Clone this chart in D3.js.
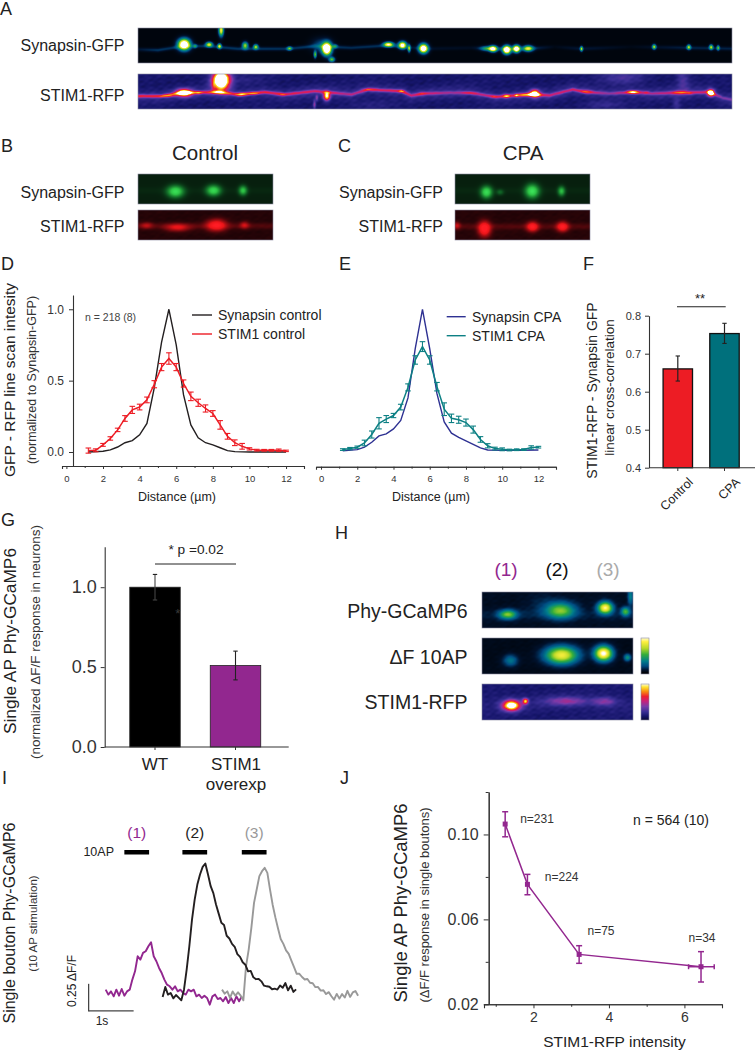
<!DOCTYPE html>
<html><head><meta charset="utf-8">
<script src="https://cdn.jsdelivr.net/npm/d3@7/dist/d3.min.js"></script>
<style>html,body{margin:0;padding:0;background:#fff}svg{display:block}text{font-family:"Liberation Sans",Arial,sans-serif;fill:#222}</style>
</head><body><svg id="c" width="755" height="1050"></svg>
<script>
// ---------- chart values ----------
const distCoarse = [1.2,2,2.4,2.8,3.2,3.6,4,4.4,4.8,5.2,5.6,6,6.4,6.8,7.2,7.6,8,8.4,8.8,9.2,10,11,12];
const synapsinControl = [0,.005,.015,.035,.065,.08,.12,.2,.45,.77,1,.75,.4,.19,.1,.065,.05,.03,.01,.003,0,0,0];
const synapsinCPA = [-.005,.003,.02,.055,.1,.115,.15,.21,.37,.72,1,.72,.4,.2,.12,.09,.065,.04,.015,0,-.003,-.002,0];
const distFine = [1.2,1.6,2,2.4,2.8,3.2,3.6,4,4.4,4.8,5.2,5.6,6,6.4,6.8,7.2,7.6,8,8.4,8.8,9.2,9.6,10,10.4,10.8,11.2,11.6,12];
const stimControl = [.01,.012,.05,.095,.155,.235,.295,.315,.365,.475,.595,.655,.595,.48,.39,.345,.305,.27,.19,.11,.065,.04,.022,.013,.012,.012,.013,.008];
const stimControlErr = [.018,.01,.01,.012,.012,.02,.025,.02,.02,.025,.025,.04,.025,.025,.03,.025,.025,.02,.03,.02,.02,.02,.008,.006,.006,.006,.008,.005];
const stimCPA = [.003,.01,.02,.05,.11,.19,.22,.245,.305,.445,.64,.735,.64,.45,.29,.225,.215,.195,.145,.075,.03,.01,.005,0,.002,.003,.018,.02];
const stimCPAErr = [.006,.008,.008,.02,.025,.04,.025,.015,.02,.025,.03,.035,.03,.03,.045,.03,.025,.025,.025,.02,.015,.01,.01,.006,.006,.006,.012,.006];
const corrCats = ["Control","CPA"];
const corrVals = [.66,.753];
const corrLow = [.628,.727];
const corrHigh = [.694,.78];
const apCats = ["WT","STIM1"];
const apVals = [1,.51];
const apLow = [.92,.42];
const apHigh = [1.08,.6];
const traceStep = .0593;
const trace1 = [31,-15,15,-31,31,-25,37,-25,15,31,124,201,340,309,371,386,433,470,340,294,232,185,124,77,62,31,62,15,31,0,-15,31,15,31,-31,-15,-46,-25,-46,-108,-31,-15,-56,-46,-77,-37,-93,-46,-93,-31,-77,-31];
const trace2 = [-37,56,-15,0,-49,-19,-43,-68,31,216,433,680,865,1004,1097,1168,1199,1097,989,925,820,735,650,630,530,505,455,428,360,335,285,262,200,205,145,128,130,108,68,62,58,35,40,32,70,48,92,25,68,10,34];
const trace3 = [31,-6,15,-46,15,-25,6,-25,-68,247,402,603,834,958,1082,1128,1159,1112,958,815,700,598,500,455,395,362,300,240,178,178,148,125,130,95,90,54,55,22,25,-10,8,-30,-62,-8,-52,-10,-42,20,-36,5,18,-25];
const traceStarts = [.015,1.281,2.6];
const stimWindows = [[.43,.98],[1.72,2.27],[3.04,3.59]];
const jX = [1.25,1.84,3.21,6.44];
const jY = [.1049,.0765,.0435,.0377];
const jYLow = [.0989,.0716,.0393,.0305];
const jYHigh = [.1107,.0812,.0476,.0448];
const jXErrPoint = [6.11,6.79];
const jN = ["n=231","n=224","n=75","n=34"];

// image blobs: [u, v, sigmaU, sigmaV, amplitude]
const synStripBlobs = [[137,25,12,11,1.5],[170,30,4,4,.35],[212,25,7,5,.8],[243,30,4,5,.8],[320,28,6,7,.7],[352,32,5,5,.7],[453,37,5,4,.55],[565,38,9,12,1.6],[530,55,3,7,.6],[590,30,5,4,.35],[580,70,6,5,.6],[550,28,20,14,.22],[750,25,10,5,1.0],[792,27,8,7,1.2],[812,37,3,7,.7],[855,37,9,9,1.4],[248,-18,5,12,.9],[1064,38,8,6,1.15],[1044,37,12,5,.4],[1105,41,8,8,1.5],[1134,38,7,7,1.35],[1169,37,10,6,.8],[1329,38,3,5,.7],[1547,32,4,5,.7],[1651,33,4,5,.7],[1718,33,4,5,.7],[1739,35,3,5,.55]];
const stimStripBlobs = [[137,170,16,8,1.0],[248,132,17,20,1.5],[240,168,12,4,.25],[310,175,10,4,.35],[345,172,12,3,.22],[180,170,6,3,.25],[90,180,14,3,.25],[565,180,7,9,.9],[528,205,3,10,.3],[535,185,3,6,.3],[225,150,4,12,.2],[430,175,8,3,.15],[690,160,15,3,.17],[790,165,8,3,.3],[850,172,8,3,.15],[1189,172,10,8,.95],[1164,175,20,4,.3],[1104,180,7,4,.42],[1134,178,4,3,.34],[1069,182,8,3,.15],[994,170,15,3,.15],[1344,165,12,4,.22],[1484,168,12,4,.5],[1524,168,6,3,.15],[1624,168,15,4,.22],[1654,172,6,3,.15],[1717,170,7,7,1.15],[1454,125,45,14,.15],[1634,130,14,30,.16],[1394,205,40,8,.1],[1614,205,8,15,.12],[300,130,60,10,.06],[700,205,50,10,.05]];
const bSyn = [[37,17,5.5,4,.9],[75,16,4.8,3.6,.85],[104.5,16,2.8,3.2,.7]];
const bStim = [[8,15,4,2.2,.4],[39,17,8,2.6,.62],[78,14.7,6.5,3.8,1.0],[106,14.7,3,2.4,.5]];
const cSyn = [[31,17.7,3.8,4,.9],[44.6,17.7,2.5,2,.25],[76.7,16.7,4.6,4.6,.95],[106,16.7,2.4,3.2,.65]];
const cStim = [[29,18.3,4,4.8,1.2],[77,16.3,3.8,3.2,1.0],[107,16.3,3.8,3.2,1.0],[1.5,15,2.4,2.4,.45]];
const hPhy = [[25.3,22,6,3.2,.58],[78,18,10,5.5,.6],[122.7,15.3,5,4,.95],[143,19,3,3,.5],[148,4,2,6,.3],[60,10,12,8,.06]];
const hDelta = [[28,22,5,4,.28],[79,16.7,11,6,.88],[121,15,6,5,1.08],[145,19,2.5,2.5,.38]];
const hStim = [[29,21,6,3.6,1.1],[43,16.7,2,2,.75],[84,16.7,14,3,.3],[122,17,8,3,.27]];

// ---------- helpers ----------
const svg = d3.select("#c");
function T(s,x,y,size,anchor,rot,color){
  const t = svg.append("text").text(s).attr("font-size",size).attr("text-anchor",anchor||"start")
    .attr("dominant-baseline","central");
  if(rot!==undefined&&rot!==null) t.attr("transform",`translate(${x},${y}) rotate(${rot})`);
  else t.attr("x",x).attr("y",y);
  if(color) t.style("fill",color);
  return t;
}
function L(x1,y1,x2,y2,c,w){svg.append("line").attr("x1",x1).attr("y1",y1).attr("x2",x2).attr("y2",y2).attr("stroke",c||"#222").attr("stroke-width",w||1);}
function axis(gen,tx,ty,fs,hideLabels){
  const g = svg.append("g").attr("transform",`translate(${tx},${ty})`).call(gen);
  g.selectAll("path").attr("stroke","#333").attr("stroke-width",1.1);
  g.selectAll("line").attr("stroke","#333").attr("stroke-width",1);
  g.selectAll("text").attr("font-size",fs||10).style("fill","#333");
  return g;
}
const fireMap = d3.scaleLinear().domain([0,.12,.25,.4,.55,.68,.82,.95,1.05])
  .range(["#06062a","#15156a","#3a2f96","#7a3aa8","#c8207a","#ee2030","#f88a10","#ffe630","#ffffff"]).clamp(true);
const gemMap = d3.scaleLinear().domain([0,.08,.2,.35,.55,.75,.95,1.1])
  .range(["#000308","#00122e","#004a80","#007d8c","#33ad3c","#b8d828","#fff040","#ffffff"]).clamp(true);
const greenMap = d3.scaleLinear().domain([0,.25,.7,1.1]).range(["#061a0c","#0e5a22","#2cc044","#40ee60"]).clamp(true);
const redMap = d3.scaleLinear().domain([0,.25,.7,1.1]).range(["#1e0306","#72090e","#e81418","#ff1c24"]).clamp(true);

function raster(x,y,w,h,cmap,fieldFn){
  const cv = document.createElement("canvas"); cv.width=w; cv.height=h;
  const ctx = cv.getContext("2d"); const im = ctx.createImageData(w,h);
  for(let j=0;j<h;j++)for(let i=0;i<w;i++){
    const c = d3.rgb(cmap(fieldFn(i,j))); const k=(j*w+i)*4;
    im.data[k]=c.r;im.data[k+1]=c.g;im.data[k+2]=c.b;im.data[k+3]=255;
  }
  ctx.putImageData(im,0,0);
  svg.append("image").attr("x",x).attr("y",y).attr("width",w).attr("height",h).attr("href",cv.toDataURL());
  svg.append("rect").attr("x",x).attr("y",y).attr("width",w).attr("height",h).attr("fill","none").attr("stroke","#8a8aa0").attr("stroke-width",.6);
}
function blobField(blobs,i,j,su,sv,vo){
  let f=0; for(const b of blobs){
    const du=(i-b[0]*su)/(b[2]*su), dv=(j-(b[1]+vo)*sv)/(b[3]*sv);
    const e=du*du+dv*dv; if(e<20) f+=b[4]*Math.exp(-.5*e);
  } return f;
}
function mottle(i,j){return .6*Math.sin(i*.31+j*.53)*Math.sin(i*.137-j*.71)+.5*Math.sin(i*.573-j*.37)*Math.cos(i*.091+j*.93)+.4*Math.sin(i*.053+j*.21+1)+.3*Math.sin(i*.89+j*1.13);}

// ---------- panel A images ----------
const stripW=594, su=1/3;
const synRidgeU=[0,60,137,210,300,450,530,640,750,860,1000,1060,1170,1250,1330,1480,1650,1800];
const synRidgeV=[40,42,30,30,38,38,30,35,28,38,35,38,38,32,38,32,35,38].map(v=>v+23);
const synRidgeA=[.07,.14,.12,.13,.14,.13,.14,.12,.13,.05,.04,.13,.14,.02,.08,.02,.1,.1];
const rsV=d3.scaleLinear().domain(synRidgeU).range(synRidgeV), rsA=d3.scaleLinear().domain(synRidgeU).range(synRidgeA);
raster(138,28,stripW,35,gemMap,(i,j)=>{
  const u=(i+.5)*3, d=(j*3-rsV(u))/4;
  return blobField(synStripBlobs,i,j,su,su,23)+rsA(u)*Math.exp(-.5*d*d)+.01;
});
const stRidgeU=[0,70,130,240,300,380,440,530,640,690,790,820,860,934,994,1074,1184,1234,1304,1344,1414,1484,1544,1624,1714,1754,1800];
const stRidgeV=[180,180,170,168,175,168,175,165,175,160,165,178,172,170,170,182,175,178,160,168,172,168,172,170,168,185,195].map(v=>v-115);
const stRidgeA=[.46,.46,.44,.46,.46,.44,.4,.36,.3,.38,.4,.36,.36,.24,.3,.36,.42,.34,.34,.38,.22,.38,.26,.36,.34,.2,.14];
const rtV=d3.scaleLinear().domain(stRidgeU).range(stRidgeV), rtA=d3.scaleLinear().domain(stRidgeU).range(stRidgeA);
raster(138,74,stripW,35,fireMap,(i,j)=>{
  const u=(i+.5)*3, d=(j*3-rtV(u))/3.6, dw=(j*3-rtV(u))/13;
  return blobField(stimStripBlobs,i,j,su,su,-115)+rtA(u)*Math.exp(-.5*d*d)+.1*Math.exp(-.5*dw*dw)+.12+.025*mottle(i,j);
});
// ---------- panels B, C images ----------
raster(138,174,135,30,greenMap,(i,j)=>blobField(bSyn,i,j,1,1,0)+.03*Math.exp(-.5*Math.pow((j-16)/2.5,2))+.02);
raster(138,210,135,30,redMap,(i,j)=>blobField(bStim,i,j,1,1,0)+.14*Math.exp(-.5*Math.pow((j-15.5)/2.2,2))+.015+.012*mottle(i,j));
raster(455,174,135,30,greenMap,(i,j)=>blobField(cSyn,i,j,1,1,0)+.03*Math.exp(-.5*Math.pow((j-16)/2.5,2))+.02);
raster(455,210,135,30,redMap,(i,j)=>blobField(cStim,i,j,1,1,0)+.13*Math.exp(-.5*Math.pow((j-16)/2.2,2))+.02+.012*mottle(i,j));
// ---------- panel H images ----------
raster(482,592,151,36,gemMap,(i,j)=>blobField(hPhy,i,j,1,1,0)+.05+.05*Math.exp(-.5*Math.pow((j-22)/4,2))+.012*mottle(i,j));
raster(482,638,151,36,gemMap,(i,j)=>blobField(hDelta,i,j,1,1,0)+.035+.008*mottle(i,j));
raster(482,684,151,36,fireMap,(i,j)=>blobField(hStim,i,j,1,1,0)+.13+.04*Math.exp(-.5*Math.pow((j-19)/6,2))+.025*mottle(i,j));
raster(641,638,8,36,gemMap,(i,j)=>1.05*(1-j/34));
raster(641,684,8,36,fireMap,(i,j)=>1.02*(1-j/36));

// ---------- letters, image text ----------
[["A",0,9],["B",1,146],["C",338,146],["D",1,264],["E",339,264],["F",583,264],["G",1,520],["H",335,533],["I",2,778],["J",340,778]]
  .forEach(d=>T(d[0],d[1],d[2],18,"start"));
T("Synapsin-GFP",124.5,45,16,"end");
T("STIM1-RFP",124.5,95,16,"end");
T("Control",205,152,20.5,"middle");
T("CPA",523,152,20.5,"middle");
T("Synapsin-GFP",124.5,192,16,"end"); T("STIM1-RFP",124.5,226,16,"end");
T("Synapsin-GFP",443,192,16,"end"); T("STIM1-RFP",443,226,16,"end");
T("Phy-GCaMP6",467.5,611,19.5,"end"); T("\u0394F 10AP",467.5,657,19.5,"end"); T("STIM1-RFP",467.5,702,19.5,"end");
T("(1)",506,569,19,"middle",null,"#92278f"); T("(2)",557,569,19,"middle",null,"#111"); T("(3)",608,569,19,"middle",null,"#aaa");

// ---------- panel D ----------
const dx=d3.scaleLinear().domain([-.24,12.98]).range([62,304]);
const dy=d3.scaleLinear().domain([-.098,1.1]).range([466,295]);
const ex=d3.scaleLinear().domain([-.277,12.97]).range([316,556]);
const ey=d3.scaleLinear().domain([0,1]).range([450,309.3]);
const xt=[0,2,4,6,8,10,12], xm=[1,3,5,7,9,11];
function scanAxes(x,ay){
  axis(d3.axisBottom(x).tickValues(xt).tickSize(3).tickPadding(6).tickFormat(d3.format("d")),0,ay,9.5);
  axis(d3.axisBottom(x).tickValues(xm).tickSize(2).tickFormat("").tickSizeOuter(0),0,ay);
}
scanAxes(dx,466); scanAxes(ex,466.7);
axis(d3.axisLeft(dy).tickValues([0,.5,1]).tickSize(4).tickPadding(5).tickFormat(d3.format(".1f")).tickSizeOuter(0),73,0,12);
function scan(x,y,coarse,fine,err,cc,cf){
  const line=d3.line();
  svg.append("path").attr("d",line(distCoarse.map((d,i)=>[x(d),y(coarse[i])]))).attr("fill","none").attr("stroke",cc).attr("stroke-width",1.4);
  svg.append("path").attr("d",line(distFine.map((d,i)=>[x(d),y(fine[i])]))).attr("fill","none").attr("stroke",cf).attr("stroke-width",1.5);
  distFine.forEach((d,i)=>{
    const X=x(d),a=y(fine[i]-err[i]),b=y(fine[i]+err[i]);
    L(X,a,X,b,cf,1.1); L(X-2.8,a,X+2.8,a,cf,1.1); L(X-2.8,b,X+2.8,b,cf,1.1);
  });
}
scan(dx,dy,synapsinControl,stimControl,stimControlErr,"#231f20","#ed1c24");
scan(ex,ey,synapsinCPA,stimCPA,stimCPAErr,"#2e3192","#0d8084");
T("GFP - RFP line scan intesity",9,380,15.5,"middle",-90);
T("(normalized to Synapsin-GFP)",32,380,12.5,"middle",-90,"#333");
T("n = 218 (8)",85,317,10.5,"start",null,"#444");
L(192,315,212,315,"#231f20",1.4); L(192,334,212,334,"#ed1c24",1.4);
T("Synapsin control",218,315,14,"start"); T("STIM1 control",218,334,14,"start");
L(446.7,316.7,465.7,316.7,"#2e3192",1.4); L(446.7,335.7,465.7,335.7,"#0d8084",1.4);
T("Synapsin CPA",472,316.7,14,"start"); T("STIM1 CPA",472,335.7,14,"start");
T("Distance (\u00b5m)",177,497,12.5,"middle"); T("Distance (\u00b5m)",431,497,12.5,"middle");

// ---------- panel F ----------
const fy=d3.scaleLinear().domain([.4,.8]).range([467.7,315.7]);
const fx=d3.scaleBand().domain(corrCats).range([654.45,747.85]).paddingInner(.37).paddingOuter(.185);
const fc=["#ed1c24","#00707c"];
corrCats.forEach((c,i)=>{
  svg.append("rect").attr("x",fx(c)).attr("y",fy(corrVals[i])).attr("width",fx.bandwidth()).attr("height",fy(.4)-fy(corrVals[i]))
    .attr("fill",fc[i]).attr("stroke","#111").attr("stroke-width",1.3);
  const X=fx(c)+fx.bandwidth()/2;
  L(X,fy(corrLow[i]),X,fy(corrHigh[i]),"#222",1.2);
  L(X-2.2,fy(corrLow[i]),X+2.2,fy(corrLow[i]),"#222",1.1); L(X-2.2,fy(corrHigh[i]),X+2.2,fy(corrHigh[i]),"#222",1.1);
  L(X,467.7,X,471,"#333",1);
});
axis(d3.axisLeft(fy).tickValues([.4,.5,.6,.7,.8]).tickSize(4).tickPadding(4).tickFormat(d3.format(".1f")).tickSizeOuter(0),649,0,11);
L(649,467.7,755,467.7,"#333",1.1);
T("Control",691,480,12.5,"end",-45); T("CPA",738,480,12.5,"end",-45);
L(677,306.7,725.7,306.7,"#222",1.1);
T("**",700,298,13,"middle");
T("STIM1-RFP - Synapsin GFP",592,390.5,14,"middle",-90);
T("linear cross-correlation",609,387.5,13.5,"middle",-90);

// ---------- panel G ----------
const gy=d3.scaleLinear().domain([0,1.2535]).range([747,546.7]);
const gx=d3.scaleBand().domain(apCats).range([114.75,275.75]).paddingInner(.373).paddingOuter(.1865);
const gc=["#000000","#92278f"];
apCats.forEach((c,i)=>{
  svg.append("rect").attr("x",gx(c)).attr("y",gy(apVals[i])).attr("width",gx.bandwidth()).attr("height",gy(0)-gy(apVals[i]))
    .attr("fill",gc[i]).attr("stroke","#222").attr("stroke-width",.8);
  const X=gx(c)+gx.bandwidth()/2;
  L(X,gy(apLow[i]),X,gy(apHigh[i]),i?"#222":"#444",1.1);
  L(X-2.2,gy(apLow[i]),X+2.2,gy(apLow[i]),i?"#222":"#444",1.1); L(X-2.2,gy(apHigh[i]),X+2.2,gy(apHigh[i]),"#222",1.1);
  L(X,747,X,750,"#333",1);
});
axis(d3.axisLeft(gy).tickValues([0,.5,1]).tickSize(4).tickPadding(4).tickFormat(d3.format(".1f")).tickSizeOuter(0),104.7,0,18);
L(104.7,747,288.7,747,"#333",1.1);
T("WT",155,764,17,"middle"); T("STIM1",236,764,17,"middle"); T("overexp",236,784,17,"middle");
T("*",177.7,613,13,"middle",null,"#3a3a3a");
L(155,564,236,564,"#222",1);
T("* p =0.02",196,549,13.7,"middle");
T("Single AP Phy-GCaMP6",10,641,17.3,"middle",-90);
T("(normalized \u0394F/F response in neurons)",35,642,13.5,"middle",-90,"#333");

// ---------- panel I ----------
const ix=d3.scaleLinear().domain([0,1]).range([105,150]);
const iy=d3.scaleLinear().domain([0,.25]).range([993,966]);
[[trace1,"#92278f"],[trace3,"#999999"],[trace2,"#231f20"]].forEach(([tr,col])=>{
  const t0=traceStarts[tr===trace1?0:tr===trace2?1:2];
  svg.append("path").attr("d",d3.line().x((d,i)=>ix(t0+i*traceStep)).y(d=>iy(d/1000))(tr))
    .attr("fill","none").attr("stroke",col).attr("stroke-width",1.9).attr("stroke-linejoin","round");
});
stimWindows.forEach((w,i)=>{
  svg.append("rect").attr("x",ix(w[0])).attr("y",850).attr("width",ix(w[1])-ix(w[0])).attr("height",4.5).attr("fill","#000");
  T(["(1)","(2)","(3)"][i],ix((w[0]+w[1])/2),832,15.5,"middle",null,["#92278f","#222","#999"][i]);
});
T("10AP",114,852,12.5,"end");
const bx=ix(-.364), by=iy(-.165);
L(bx,by,bx+ix(1)-ix(0),by,"#444",1.3); L(bx,by+.6,bx,by-(iy(0)-iy(.25)),"#444",1.3);
T("1s",102,1021,12,"middle");
T("0.25 \u0394F/F",72,981,12,"middle",-90);
T("Single bouton Phy-GCaMP6",9,923,16,"middle",-90);
T("(10 AP stimulation)",33,923.5,11.5,"middle",-90,"#333");

// ---------- panel J ----------
const jx=d3.scaleLinear().domain([.689,6.996]).range([484,722]);
const jy=d3.scaleLinear().domain([.02,.12]).range([1004.3,792]);
axis(d3.axisBottom(jx).tickValues([2,4,6]).tickSize(4).tickPadding(4).tickFormat(d3.format("d")),0,1004.3,14);
axis(d3.axisBottom(jx).tickValues([1,3,5]).tickSize(2.5).tickFormat("").tickSizeOuter(0),0,1004.3);
axis(d3.axisLeft(jy).tickValues([.02,.06,.1]).tickSize(5).tickPadding(5).tickFormat(d3.format(".2f")).tickSizeOuter(0),488.7,0,16);
axis(d3.axisLeft(jy).tickValues([.04,.08,.12]).tickSize(3).tickFormat("").tickSizeOuter(0),488.7,0);
const jc="#93278f";
svg.append("path").attr("d",d3.line().x((d,i)=>jx(jX[i])).y(d=>jy(d))(jY)).attr("fill","none").attr("stroke",jc).attr("stroke-width",1.5);
jX.forEach((d,i)=>{
  const X=jx(d),a=jy(jYLow[i]),b=jy(jYHigh[i]),Y=jy(jY[i]);
  L(X,a,X,b,jc,1.5); L(X-3,a,X+3,a,jc,1.5); L(X-3,b,X+3,b,jc,1.5);
  svg.append("rect").attr("x",X-2.5).attr("y",Y-2.5).attr("width",5).attr("height",5).attr("fill",jc);
});
const jLast=jy(jY[3]);
L(jx(jXErrPoint[0]),jLast,jx(jXErrPoint[1]),jLast,jc,1.5);
jXErrPoint.forEach(v=>L(jx(v),jLast-2.5,jx(v),jLast+2.5,jc,1.5));
[[537,819],[561.7,876.7],[601,931],[702,937.7]].forEach((p,i)=>T(jN[i],p[0],p[1],12,"middle",null,"#333"));
T("n = 564 (10)",671,820,14,"middle",null,"#222");
T("STIM1-RFP intensity",614.5,1041,15.5,"middle");
T("Single AP Phy-GCaMP6",400,903,18.5,"middle",-90);
T("(\u0394F/F response in single boutons)",424,905,13,"middle",-90,"#333");
</script></body></html>
